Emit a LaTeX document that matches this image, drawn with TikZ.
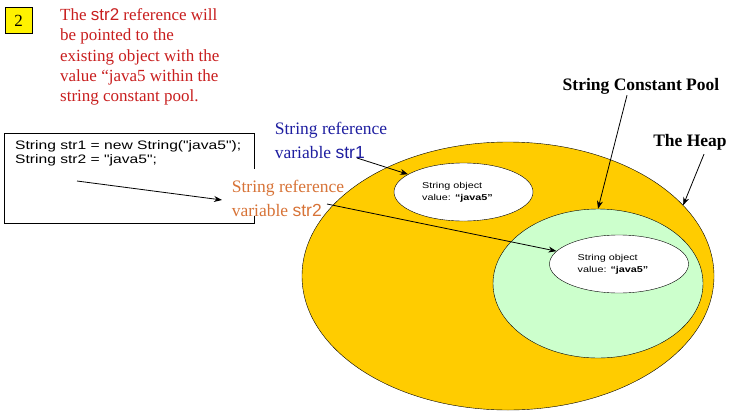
\documentclass[tikz,border=0pt]{standalone}
\usepackage{fontspec}
\setmainfont{Liberation Serif}
\newfontfamily\gul{Liberation Sans}
\newfontfamily\gulw[FakeStretch=1.27]{Liberation Sans}
\usetikzlibrary{shapes.geometric,arrows.meta}
\definecolor{heapY}{RGB}{255,204,0}
\definecolor{poolG}{RGB}{204,255,204}
\definecolor{noteR}{RGB}{200,30,30}
\definecolor{refB}{RGB}{30,30,160}
\definecolor{refO}{RGB}{215,115,55}
\tikzset{
  arr/.style={-{Stealth[length=8pt,width=6pt]},thick},
  obj/.style={ellipse,draw,fill=white,minimum width=139pt,minimum height=58pt,inner sep=0pt,font=\gulw\fontsize{8.5}{12}\selectfont,align=left},
  lbl/.style={font=\fontsize{17.5}{24}\selectfont,align=left,inner sep=1pt},
  hd/.style={font=\bfseries\fontsize{17.5}{20}\selectfont,inner sep=1pt}
}
\begin{document}
\begin{tikzpicture}[x=1pt,y=-1pt]
\useasboundingbox (0,0) rectangle (730,418);
% number box and note
\node[draw,fill=yellow,minimum width=27pt,minimum height=26pt,inner sep=0pt,font=\fontsize{17}{18}\selectfont] (num) at (18.5,20.5) {2};
\node[anchor=west,text=noteR,font=\fontsize{17}{20.3}\selectfont,align=left,inner sep=0pt] (note) at (60,57)
  {The {\gul str2} reference will\\be pointed to the\\existing object with the\\value “java5 within the\\string constant pool.};
% code box
\node[draw,thick,minimum width=250pt,minimum height=90pt,inner sep=0pt] (code) at (129,178) {};
\fill[white] (250,169) rectangle (258,216);
\node[anchor=west,font=\gulw\fontsize{12.3}{14}\selectfont,align=left,inner sep=0pt] (codetxt) at (15,153)
  {String str1 = new String("java5");\\String str2 = "java5";};
% heap and pool
\node[ellipse,draw,fill=heapY,minimum width=412pt,minimum height=268pt,inner sep=0pt] (heap) at (508,276) {};
\node[ellipse,draw,fill=poolG,minimum width=210pt,minimum height=149pt,inner sep=0pt] (pool) at (598,283.5) {};
\node[obj] (obj1) at (463.5,192) {String object\\value: \textbf{“java5”}\hspace*{12pt}};
\node[obj] (obj2) at (619,264) {String object\\value: \textbf{“java5”}\hspace*{12pt}};
% labels
\node[lbl,text=refB] (ref1) at (331,140) {String reference\\variable {\gul str1}};
\node[lbl,text=refO] (ref2) at (288,198) {String reference\\variable {\gul str2}};
\node[hd] (pooll) at (641,86) {String Constant Pool};
\node[hd] (heapl) at (690,142) {The Heap};
% connectors
\coordinate (c1) at (77,181);
\coordinate (c2) at (222,200);
\coordinate (s1) at (357,158);
\coordinate (s2) at (327,204);
\draw[arr] (c1) -- (c2);
\draw[arr] (s1) -- (obj1);
\draw[arr] (s2) -- (obj2);
\draw[arr] ([xshift=-14pt]pooll.south) -- (pool.north);
\draw[arr] ([xshift=14pt,yshift=-3pt]heapl.south) -- (heap.22);
\end{tikzpicture}
\end{document}
